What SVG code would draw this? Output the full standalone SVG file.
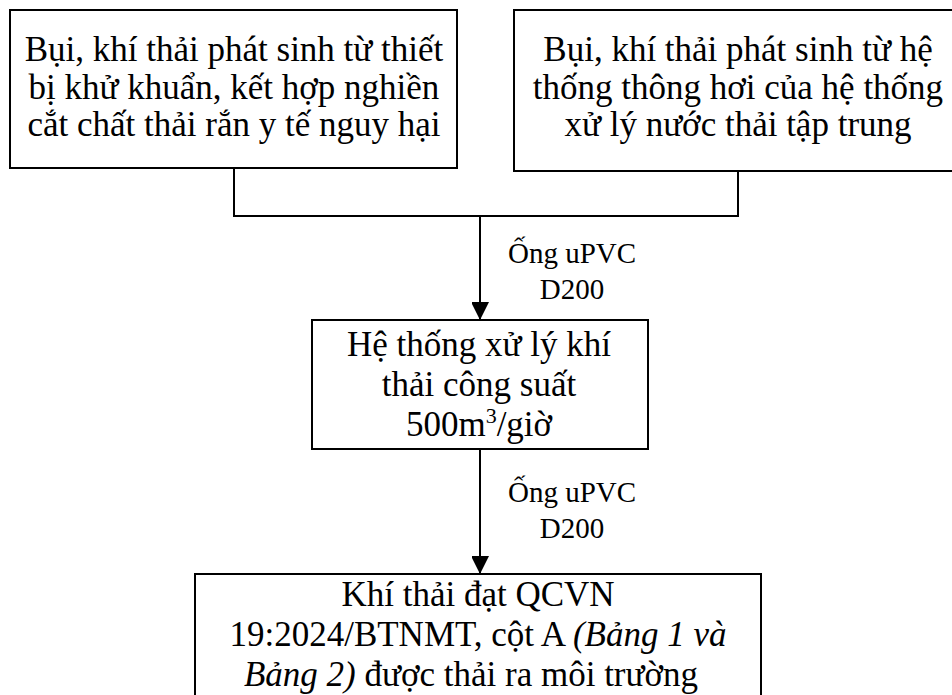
<svg xmlns="http://www.w3.org/2000/svg" width="952" height="695" viewBox="0 0 952 695">
<defs>
<style>
.box{fill:#fff;stroke:#000;stroke-width:2}
.t{font-family:"Liberation Serif","Times New Roman",serif;font-size:35px;fill:#000;text-anchor:middle}
.lbl{font-family:"Liberation Serif","Times New Roman",serif;font-size:29px;fill:#000;text-anchor:middle}
.ln{fill:none;stroke:#000;stroke-width:2}
.it{font-style:italic}
</style>
<marker id="ah" markerUnits="userSpaceOnUse" markerWidth="20" markerHeight="17" refX="18" refY="9" orient="auto">
<path d="M0,0 L18,9 L0,18 Z" fill="#000"/>
</marker>
</defs>
<rect width="952" height="695" fill="#fff"/>
<g id="connectors">
<polyline class="ln" points="234,168 234,216 738,216 738,171"/>
<line class="ln" x1="480" y1="216" x2="480" y2="320" marker-end="url(#ah)"/>
<line class="ln" x1="480" y1="449" x2="480" y2="574" marker-end="url(#ah)"/>
<text class="lbl" x="572" y="263">Ống uPVC</text>
<text class="lbl" x="572" y="299">D200</text>
<text class="lbl" x="572" y="502">Ống uPVC</text>
<text class="lbl" x="572" y="538">D200</text>
</g>
<g id="node1">
<rect class="box" x="10" y="10" width="447" height="158"/>
<text class="t" x="234" y="61">Bụi, khí thải phát sinh từ thiết</text>
<text class="t" x="234" y="99">bị khử khuẩn, kết hợp nghiền</text>
<text class="t" x="234" y="136">cắt chất thải rắn y tế nguy hại</text>
</g>
<g id="node2">
<rect class="box" x="514" y="10" width="448" height="161"/>
<text class="t" x="738" y="61">Bụi, khí thải phát sinh từ hệ</text>
<text class="t" x="738" y="99">thống thông hơi của hệ thống</text>
<text class="t" x="738" y="136">xử lý nước thải tập trung</text>
</g>
<g id="node3">
<rect class="box" x="312" y="320" width="336" height="129"/>
<text class="t" x="479" y="356">Hệ thống xử lý khí</text>
<text class="t" x="479" y="396">thải công suất</text>
<text class="t" x="479" y="436">500m<tspan font-size="22" dy="-13">3</tspan><tspan dy="13">/giờ</tspan></text>
</g>
<g id="node4">
<rect class="box" x="195" y="574" width="566" height="140"/>
<text class="t" x="478" y="606">Khí thải đạt QCVN</text>
<text class="t" x="478" y="646">19:2024/BTNMT, cột A <tspan class="it">(Bảng 1 và</tspan></text>
<text class="t" x="471" y="686"><tspan class="it">Bảng 2)</tspan> được thải ra môi trường</text>
</g>
</svg>
